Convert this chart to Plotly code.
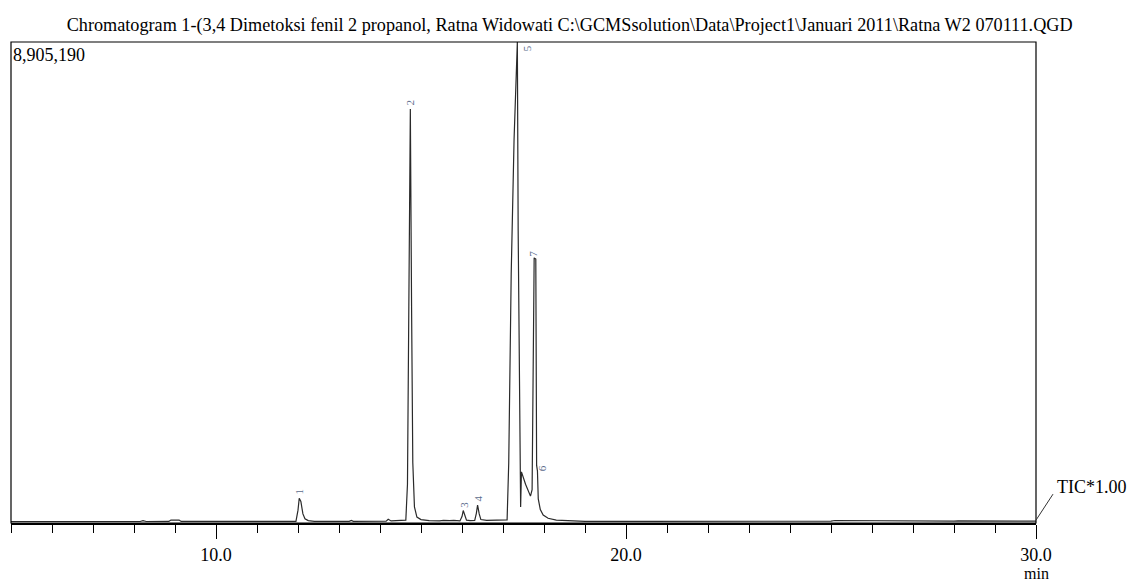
import plotly.graph_objects as go

# ---- data ----
full_scale = 8905190

ret_time = [5.00, 6.50, 8.15, 8.22, 8.30, 8.85, 8.90, 9.10, 9.15, 10.50, 11.00, 11.95,
            12.00, 12.03, 12.07, 12.12, 12.17, 12.25, 12.40, 13.25, 13.30, 13.35,
            14.15, 14.20, 14.27, 14.50, 14.63, 14.67, 14.70, 14.74, 14.77, 14.80,
            14.84, 14.90, 15.00, 15.20, 15.45, 15.55, 15.70, 15.80, 15.95, 16.00,
            16.03, 16.07, 16.11, 16.20, 16.31, 16.35, 16.38, 16.42, 16.46, 16.60,
            16.90, 17.10, 17.14, 17.20, 17.27, 17.35, 17.37, 17.40, 17.43, 17.45,
            17.55, 17.67, 17.71, 17.76, 17.80, 17.82, 17.84, 17.86, 17.91, 17.98,
            18.10, 18.30, 18.60, 19.00, 20.50, 21.40, 21.50, 23.30, 23.40, 24.20,
            24.30, 25.00, 25.10, 26.50, 26.60, 28.00, 28.10, 30.00]
intensity = [9000, 9000, 9000, 25000, 9000, 10000, 35000, 35000, 10000, 12000, 10000, 10000,
             220000, 440000, 380000, 150000, 60000, 25000, 12000, 12000, 30000, 12000,
             15000, 50000, 20000, 25000, 35000, 700000, 3700000, 7660000, 4000000, 1100000,
             280000, 90000, 45000, 25000, 20000, 30000, 25000, 30000, 20000, 100000,
             213000, 120000, 35000, 25000, 30000, 160000, 315000, 150000, 45000, 30000,
             30000, 40000, 1100000, 4600000, 7100000, 8905190, 5400000, 2000000, 280000, 930000,
             700000, 480000, 600000, 4900000, 4880000, 1050000, 950000, 430000, 230000, 130000,
             70000, 35000, 20000, 12000, 12000, 12000, 25000, 12000, 25000, 12000,
             25000, 15000, 28000, 15000, 25000, 15000, 22000, 15000]

peak_ids = ["1", "2", "3", "4", "5", "6", "7"]
peak_time = [12.03, 14.74, 16.03, 16.38, 17.35, 17.84, 17.78]
peak_height = [440000, 7660000, 213000, 315000, 8905190, 950000, 4900000]

tick_vals = [10, 20, 30]
tick_text = ["10.0", "20.0", "30.0"]

title_text = ("Chromatogram 1-(3,4 Dimetoksi fenil 2 propanol, Ratna Widowati "
              "C:\\GCMSsolution\\Data\\Project1\\Januari 2011\\Ratna W2 070111.QGD")

FONT = "Liberation Serif, Times New Roman, serif"

fig = go.Figure()
fig.add_trace(go.Scatter(x=ret_time, y=intensity, mode="lines",
                         line=dict(color="#2a2a2a", width=1.2),
                         hoverinfo="x+y", showlegend=False))

# peak labels (rotated numbers)
label_shift = {"1": (0, 7), "2": (0, 7), "3": (0, 6), "4": (0, 6),
               "5": (10, -6), "6": (4, 3), "7": (-2, 4)}
for pid, t, h in zip(peak_ids, peak_time, peak_height):
    dx, dy = label_shift[pid]
    fig.add_annotation(x=t, y=h, xref="x", yref="y", text=pid, showarrow=False,
                       textangle=-90, xshift=dx, yshift=dy,
                       font=dict(family=FONT, size=11, color="#5b6b8c"))

fig.update_layout(
    width=1128, height=583,
    margin=dict(l=11, r=92, t=42, b=60),
    paper_bgcolor="white", plot_bgcolor="white",
    title=dict(text=title_text, x=0.505, xref="container", xanchor="center",
               y=1 - 25 / 583, yref="container", yanchor="middle",
               font=dict(family=FONT, size=18.2, color="black")),
    xaxis=dict(range=[5, 30], showgrid=False, zeroline=False,
               tickvals=tick_vals, ticktext=tick_text,
               ticks="outside", ticklen=14, tickwidth=1.3, tickcolor="black",
               showline=True, linecolor="black", linewidth=2,
               tickfont=dict(family=FONT, size=18, color="black"),
               minor=dict(dtick=1, tick0=0, ticks="outside", ticklen=8,
                          tickwidth=1.2, tickcolor="black", showgrid=False)),
    yaxis=dict(range=[-full_scale * 0.0021, full_scale], showgrid=False,
               zeroline=False, showticklabels=False, ticks="", showline=False),
)

# frame
fig.add_shape(type="rect", xref="paper", yref="paper", x0=0, x1=1, y0=0, y1=1,
              line=dict(color="black", width=1.2))

# full-scale label
fig.add_annotation(x=0, y=1, xref="paper", yref="paper", xanchor="left", yanchor="top",
                   text=f"{full_scale:,}", showarrow=False, xshift=0, yshift=-1,
                   font=dict(family=FONT, size=18, color="black"))

# TIC leader line and label
fig.add_shape(type="line", xref="paper", yref="paper",
              x0=1.0, y0=0.006, x1=1 + 17 / 1025, y1=0.06,
              line=dict(color="#333", width=1))
fig.add_annotation(x=1 + 19 / 1025, y=0.075, xref="paper", yref="paper",
                   xanchor="left", yanchor="middle", text="TIC*1.00", showarrow=False,
                   font=dict(family=FONT, size=18, color="black"))

# axis unit
fig.add_annotation(x=30, y=0, xref="x", yref="paper", yanchor="middle", xanchor="center",
                   text="min", showarrow=False, yshift=-50,
                   font=dict(family=FONT, size=16, color="black"))

fig.write_html("out.html")
